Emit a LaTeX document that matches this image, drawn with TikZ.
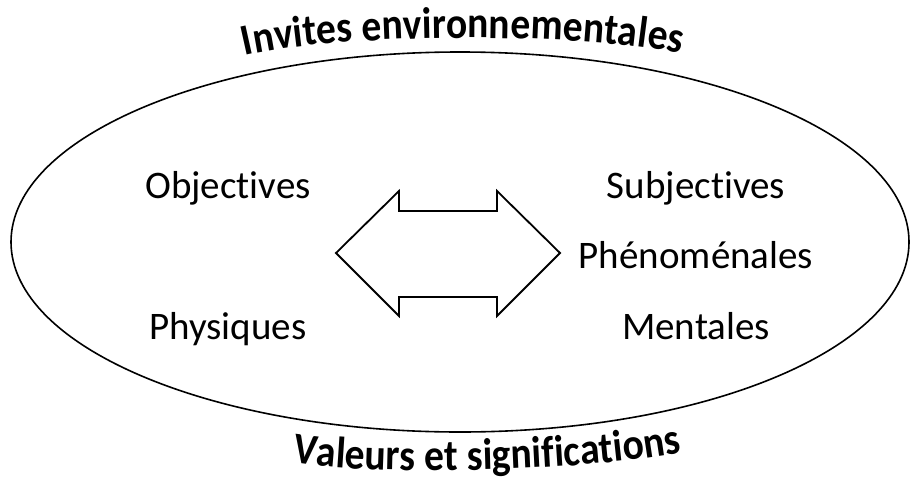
\documentclass[tikz,border=0pt]{standalone}
\usepackage{fontspec}
\setmainfont[Ligatures={NoCommon}]{Carlito}
\newfontfamily\archfont[FakeStretch=0.9, Ligatures={NoCommon}]{Carlito}
\usetikzlibrary{decorations.text, positioning}
\tikzstyle{category} = [font=\fontsize{39}{47}\selectfont, anchor=base, inner sep=0pt]
\tikzstyle{contour} = [draw, line width=1.6pt]
\tikzstyle{exchange} = [draw, line width=1.8pt, line join=miter]
\tikzstyle{archtitle} = [decorate, decoration={text along path, text align=center}]

\begin{document}
\begin{tikzpicture}[x=1pt, y=-1pt]
		\useasboundingbox (0,0) rectangle (912,479);
		\draw [contour] (460,242) ellipse [x radius=449pt, y radius=190pt];
		\node (objectives) [category] at (228,198) {Objectives};
		\node (physiques) [category, below=141pt of objectives.base, anchor=base] {Physiques};
		\node (subjectives) [category] at (696,198) {Subjectives};
		\node (phenomenales) [category, below=70pt of subjectives.base, anchor=base] {Phénoménales};
		\node (mentales) [category, below=71pt of phenomenales.base, anchor=base] {Mentales};
		\draw [exchange] (336,253) -- (399,191) -- (399,211) -- (497,211) -- (497,191) -- (560,253)
		-- (497,316) -- (497,297) -- (399,297) -- (399,316) -- cycle;
		\path [archtitle, decoration={text={|\archfont\bfseries\fontsize{44}{53}\selectfont|Invites environnementales}}]
		(230,60) .. controls (318,31) and (607,31) .. (696,58);
		\path [archtitle, decoration={text={|\archfont\bfseries\fontsize{44}{53}\selectfont|Valeurs et significations}}]
		(278,460) .. controls (350,477) and (600,473) .. (696,449);
	\end{tikzpicture}
\end{document}
